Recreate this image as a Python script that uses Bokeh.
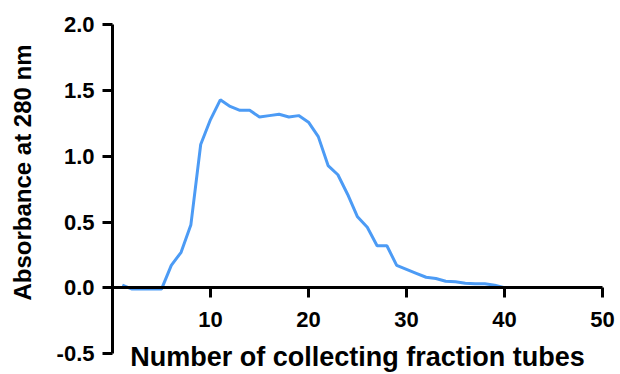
import math
from bokeh.plotting import figure
from bokeh.models import LinearAxis, FixedTicker, PrintfTickFormatter, Range1d, Label
from bokeh.embed import file_html
from bokeh.resources import INLINE

# Data
tubes = list(range(1, 41))
absorbance = [0.02, -0.01, -0.01, -0.01, -0.01, 0.17, 0.27, 0.48, 1.09, 1.28,
              1.43, 1.38, 1.35, 1.35, 1.30, 1.31, 1.32, 1.30, 1.31, 1.26,
              1.15, 0.93, 0.86, 0.71, 0.54, 0.46, 0.32, 0.32, 0.17, 0.14,
              0.11, 0.08, 0.07, 0.05, 0.045, 0.035, 0.03, 0.03, 0.02, 0.00]
x_ticks = [10, 20, 30, 40, 50]
y_ticks = [-0.5, 0.0, 0.5, 1.0, 1.5, 2.0]
x_title = "Number of collecting fraction tubes"
y_title = "Absorbance at 280 nm"

FONT = "Liberation Sans"

# Offset (GraphPad-style) axes drawn inside an enlarged frame
p = figure(width=620, height=374, output_backend="svg", toolbar_location=None,
           x_range=Range1d(-11.43, 51.84), y_range=Range1d(-0.66, 2.186),
           x_axis_location=None, y_axis_location=None,
           min_border=0)
p.outline_line_color = None
p.xgrid.visible = False
p.ygrid.visible = False

p.line(tubes, absorbance, line_color="#4C9BF5", line_width=3)

def style(ax):
    ax.axis_line_width = 3
    ax.axis_line_color = "black"
    ax.major_tick_line_width = 3
    ax.major_tick_line_color = "black"
    ax.major_tick_out = 10
    ax.major_tick_in = 0
    ax.minor_tick_line_color = None
    ax.major_label_text_font = FONT
    ax.major_label_text_font_style = "bold"
    ax.major_label_text_font_size = "22px"
    ax.major_label_text_color = "black"

yaxis = LinearAxis(ticker=FixedTicker(ticks=y_ticks), formatter=PrintfTickFormatter(format="%.1f"),
                   fixed_location=0, bounds=(-0.5, 2.0))
style(yaxis)
yaxis.major_label_standoff = 8
p.add_layout(yaxis, "left")

xaxis = LinearAxis(ticker=FixedTicker(ticks=x_ticks), fixed_location=0, bounds=(0, 50))
style(xaxis)
xaxis.major_label_standoff = 14
p.add_layout(xaxis, "below")

p.add_layout(Label(x=25.0, y=-0.53, text=x_title, text_align="center", text_baseline="alphabetic",
                   text_font=FONT, text_font_style="bold",
                   text_font_size="27px", text_color="black"))
p.add_layout(Label(x=-9.18, y=0.877, text=y_title, text_align="center", text_baseline="middle",
                   angle=math.pi / 2, text_font=FONT, text_font_style="bold",
                   text_font_size="24px", text_color="black"))

open("out.html", "w").write(file_html(p, INLINE))
